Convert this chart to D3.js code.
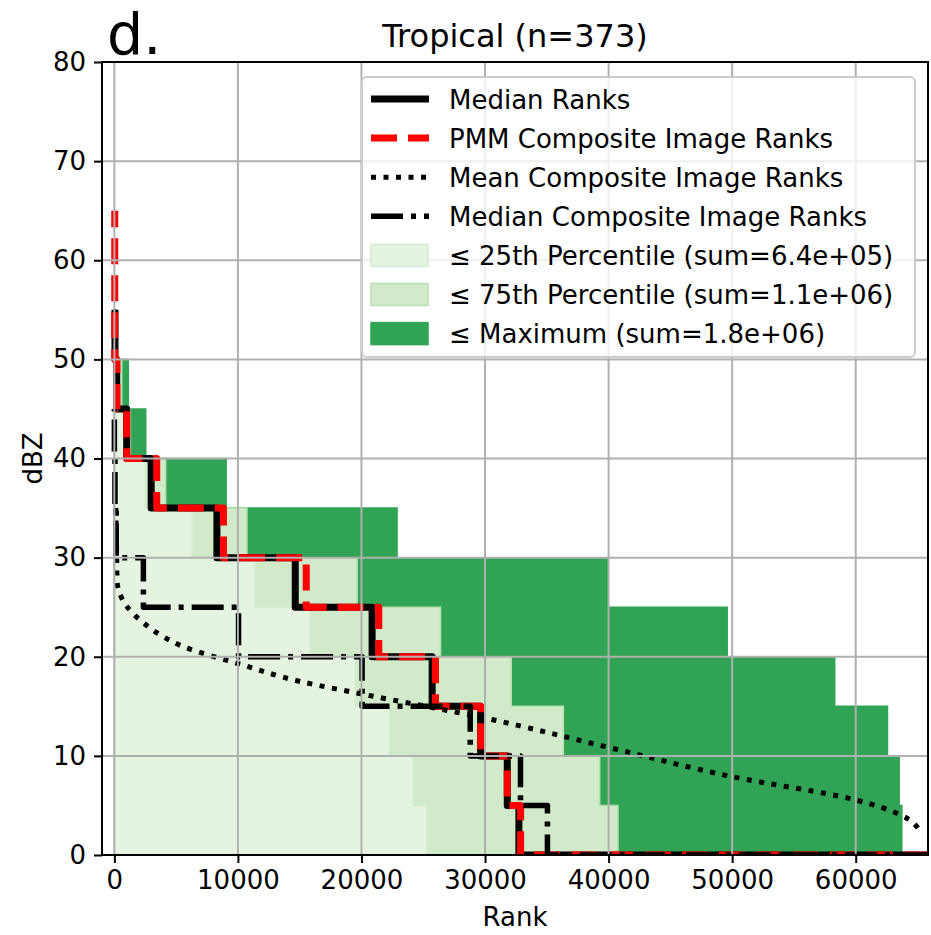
<!DOCTYPE html>
<meta charset="utf-8">
<style>
body { margin: 0; background: #fff; }
text { font-family: "DejaVu Sans", sans-serif; fill: #000; }
</style>
<svg width="931" height="935"></svg>
<script src="https://d3js.org/d3.v7.min.js"></script>
<script>

// lower edge of each 5 dBZ band
var bandLower = [0, 5, 10, 15, 20, 25, 30, 35, 40, 45, 50, 55, 60];

// rank of each step, band 0-5 first
var medianRanks   = [32740, 31800, 29640, 25720, 20860, 14640, 8300, 2980, 1000, 190, 50];
var medianTop     = 55;
var pmmRanks      = [32880, 31800, 29640, 25990, 21400, 15530, 8830, 3430, 1000, 200, 30, 30, 30];
var pmmTop        = 65;
var compMedRanks  = [35050, 32870, 28800, 20050, 10050, 2350, 150, 50, 0];
var compMedTop    = 45;

// mean composite curve
var meanRank = [120, 180, 220, 400, 1030, 2370, 3990, 5610, 10040, 15060, 20000, 30040, 40020, 50010, 60000, 63640, 65260];
var meanDbz  = [35, 31, 27.6, 26.5, 25.05, 23.4, 22.0, 21.0, 19.3, 17.5, 16.25, 13.8, 10.85, 7.9, 5.55, 4.04, 2.35];

// percentile envelopes, band 0-5 first
var p25Ranks = [25300, 24200, 22300, 19500, 15870, 11400, 6320, 2500, 1100, 400];
var p75Ranks = [40760, 39280, 36340, 32120, 26400, 19650, 10730, 4150, 1300, 600];
var maxRanks = [63730, 63520, 62570, 58300, 49600, 39890, 22880, 9050, 2540, 1130, 150];

var xTicks = [0, 10000, 20000, 30000, 40000, 50000, 60000];
var yTicks = [0, 10, 20, 30, 40, 50, 60, 70, 80];
var rankEnd = 66000;

var legendLabels = ["Median Ranks", "PMM Composite Image Ranks", "Mean Composite Image Ranks",
  "Median Composite Image Ranks", "\u2264 25th Percentile (sum=6.4e+05)",
  "\u2264 75th Percentile (sum=1.1e+06)", "\u2264 Maximum (sum=1.8e+06)"];

var svg = d3.select("svg"),
    margin = {top: 62, right: 3, bottom: 80, left: 102},
    width = 931 - margin.left - margin.right,
    height = 935 - margin.top - margin.bottom;

var x = d3.scaleLinear().domain([-1000, 65850]).range([0, width]);
var y = d3.scaleLinear().domain([0, 80]).range([height, 0]);

svg.append("defs").append("clipPath").attr("id", "clip")
  .append("rect").attr("width", width).attr("height", height);

var g = svg.append("g").attr("transform", "translate(" + margin.left + "," + margin.top + ")");
var plot = g.append("g").attr("clip-path", "url(#clip)");

function steps(vals, top) {
  var pts = vals.map(function(v, i) { return [v, bandLower[i]]; });
  pts.push([vals[vals.length - 1], top]);
  return pts;
}

var area = d3.area()
  .y(function(d) { return y(d[1]); })
  .x0(x(0))
  .x1(function(d) { return x(d[0]); })
  .curve(d3.curveStepBefore);

var fills = [
  {vals: maxRanks, fill: "#31a354", stroke: "#31a354"},
  {vals: p75Ranks, fill: "#d0eaca", stroke: "#b8dfb2"},
  {vals: p25Ranks, fill: "#e5f4e0", stroke: "#d3ecce"}
];
fills.forEach(function(f) {
  plot.append("path")
    .datum(steps(f.vals, bandLower[f.vals.length - 1] + 5))
    .attr("d", area)
    .attr("fill", f.fill)
    .attr("stroke", f.stroke)
    .attr("stroke-width", 1.5);
});

// grid
g.append("g").selectAll("line").data(xTicks).enter().append("line")
  .attr("x1", function(d) { return x(d); }).attr("x2", function(d) { return x(d); })
  .attr("y1", 0).attr("y2", height)
  .attr("stroke", "#b0b0b0").attr("stroke-width", 2);
g.append("g").selectAll("line").data(yTicks).enter().append("line")
  .attr("y1", function(d) { return y(d); }).attr("y2", function(d) { return y(d); })
  .attr("x1", 0).attr("x2", width)
  .attr("stroke", "#b0b0b0").attr("stroke-width", 2);

var line = d3.line()
  .x(function(d) { return x(d[0]); })
  .y(function(d) { return y(d[1]); })
  .curve(d3.curveStepBefore);

function stepLine(vals, top) {
  return [[rankEnd, 0]].concat(steps(vals, top));
}

var styles = [
  {color: "#000", width: 7, dash: null},
  {color: "red", width: 7, dash: "26,11"},
  {color: "#000", width: 5, dash: "5,7.5"},
  {color: "#000", width: 5.5, dash: "32,8,5,8"}
];

plot.append("path").datum(stepLine(medianRanks, medianTop)).attr("d", line)
  .attr("fill", "none").attr("stroke", styles[0].color).attr("stroke-width", styles[0].width)
  .attr("stroke-linejoin", "round");
plot.append("path").datum(stepLine(pmmRanks, pmmTop)).attr("d", line)
  .attr("fill", "none").attr("stroke", styles[1].color).attr("stroke-width", styles[1].width)
  .attr("stroke-dasharray", styles[1].dash).attr("stroke-linejoin", "round");

var meanPts = meanRank.map(function(r, i) { return [r, meanDbz[i]]; });
plot.append("path").datum(meanPts)
  .attr("d", d3.line().x(function(d) { return x(d[0]); }).y(function(d) { return y(d[1]); }).curve(d3.curveMonotoneY))
  .attr("fill", "none").attr("stroke", styles[2].color).attr("stroke-width", styles[2].width)
  .attr("stroke-dasharray", styles[2].dash);

plot.append("path").datum(stepLine(compMedRanks, compMedTop)).attr("d", line)
  .attr("fill", "none").attr("stroke", styles[3].color).attr("stroke-width", styles[3].width)
  .attr("stroke-dasharray", styles[3].dash).attr("stroke-linejoin", "round");

// axes
var xAxis = g.append("g").attr("transform", "translate(0," + height + ")")
  .call(d3.axisBottom(x).tickValues(xTicks).tickSize(8).tickPadding(8).tickFormat(d3.format("d")));
var yAxis = g.append("g")
  .call(d3.axisLeft(y).tickValues(yTicks).tickSize(8).tickPadding(8));
[xAxis, yAxis].forEach(function(a) {
  a.select(".domain").remove();
  a.selectAll(".tick line").attr("stroke", "#000").attr("stroke-width", 2);
  a.selectAll(".tick text").attr("font-size", 26).attr("font-family", "DejaVu Sans").attr("fill", "#000");
});

g.append("rect").attr("width", width).attr("height", height)
  .attr("fill", "none").attr("stroke", "#000").attr("stroke-width", 2);

// legend
var leg = svg.append("g").attr("transform", "translate(362,77)");
leg.append("rect").attr("width", 553).attr("height", 280).attr("rx", 5)
  .attr("fill", "#fff").attr("fill-opacity", 0.8)
  .attr("stroke", "#cccccc").attr("stroke-width", 2);

var rowY = function(i) { return 22 + i * 39.1; };
legendLabels.forEach(function(lab, i) {
  var ry = rowY(i);
  if (i < 4) {
    var s = styles[i];
    var seg = leg.append("line").attr("x1", 9).attr("x2", 67).attr("y1", ry).attr("y2", ry)
      .attr("stroke", s.color).attr("stroke-width", s.width);
    if (s.dash) seg.attr("stroke-dasharray", s.dash);
  } else {
    var f = fills[6 - i];
    leg.append("rect").attr("x", 9).attr("y", ry - 11).attr("width", 57).attr("height", 22)
      .attr("fill", f.fill).attr("stroke", f.stroke).attr("stroke-width", 1.5);
  }
  leg.append("text").attr("x", 87).attr("y", ry + 9.5).attr("font-size", 26).text(lab);
});

// titles
svg.append("text").attr("x", margin.left + width / 2).attr("y", 47)
  .attr("text-anchor", "middle").attr("font-size", 32).text("Tropical (n=373)");
svg.append("text").attr("x", 107).attr("y", 54).attr("font-size", 57).text("d.");
svg.append("text").attr("x", margin.left + width / 2).attr("y", 926)
  .attr("text-anchor", "middle").attr("font-size", 26).text("Rank");
svg.append("text").attr("transform", "translate(42," + (margin.top + height / 2) + ") rotate(-90)")
  .attr("text-anchor", "middle").attr("font-size", 26).text("dBZ");

</script>
